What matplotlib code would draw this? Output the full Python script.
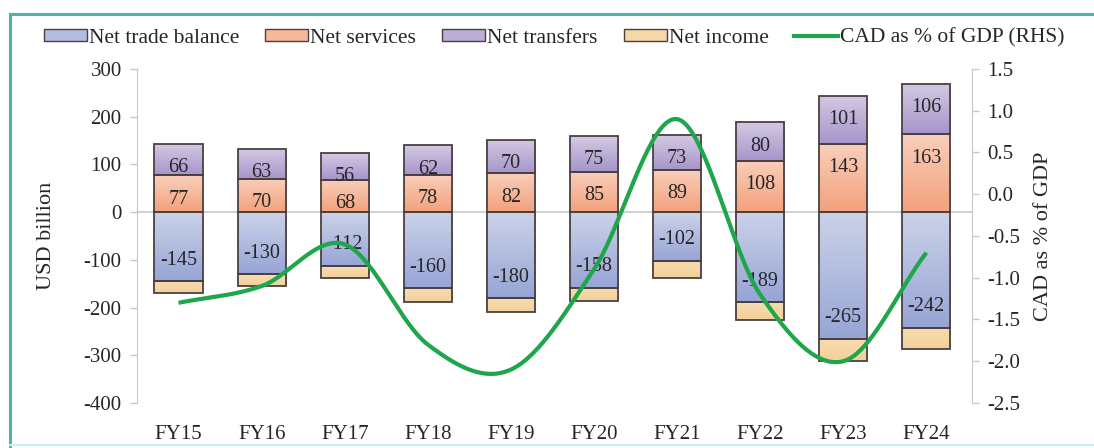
import numpy as np
import matplotlib
matplotlib.use("Agg")
import matplotlib.pyplot as plt
from matplotlib.colors import LinearSegmentedColormap
from matplotlib.lines import Line2D
from matplotlib.patches import Patch

plt.rcParams['font.family'] = ['Liberation Serif', 'DejaVu Serif']
plt.rcParams['axes.unicode_minus'] = False

years = ["FY15", "FY16", "FY17", "FY18", "FY19", "FY20", "FY21", "FY22", "FY23", "FY24"]
net_trade = [-145, -130, -112, -160, -180, -158, -102, -189, -265, -242]
net_services = [77, 70, 68, 78, 82, 85, 89, 108, 143, 163]
net_transfers = [66, 63, 56, 62, 70, 75, 73, 80, 101, 106]
net_income = [-24, -24, -26, -29, -30, -28, -36, -38, -46, -45]
cad_pct_gdp = [-1.3, -1.1, -0.6, -1.8, -2.1, -0.9, 0.9, -1.2, -2.0, -0.7]

# gradient (top colour, bottom colour) per component
grad_trade = ("#cbd2e8", "#97a5d6")
grad_services = ("#f9cfba", "#f3a17d")
grad_transfers = ("#d3c9e3", "#a795cb")
grad_income = ("#f7dcb0", "#f3d09b")
edge_col = "#4a4040"
line_col = "#1ea64a"
txt_col = "#262626"

W, H, DPI = 1094, 448, 100
fig = plt.figure(figsize=(W / DPI, H / DPI), dpi=DPI)
ax = fig.add_axes([137 / W, 1 - 403 / H, (972 - 137) / W, (403 - 69) / H])
ax2 = ax.twinx()

x = np.arange(len(years))
bw = 0.58


def grad_bars(xs, bottoms, heights, colors):
    cmap = LinearSegmentedColormap.from_list("g", [colors[1], colors[0]])
    bars = ax.bar(xs, heights, bw, bottom=bottoms, facecolor="none",
                  edgecolor=edge_col, linewidth=1.3, zorder=3)
    grad = np.linspace(0, 1, 64).reshape(-1, 1)
    for b in bars:
        x0, y0 = b.get_x(), b.get_y()
        w, h = b.get_width(), b.get_height()
        lo, hi = min(y0, y0 + h), max(y0, y0 + h)
        im = ax.imshow(grad, cmap=cmap, origin="lower", aspect="auto",
                       extent=(x0, x0 + w, lo, hi), zorder=2,
                       interpolation="bilinear")
        im.set_clip_path(b)
    return bars


zeros = np.zeros(len(years))
trade_arr = np.array(net_trade, dtype=float)
serv_arr = np.array(net_services, dtype=float)
trans_arr = np.array(net_transfers, dtype=float)
inc_arr = np.array(net_income, dtype=float)

grad_bars(x, zeros, trade_arr, grad_trade)
grad_bars(x, zeros, serv_arr, grad_services)
grad_bars(x, serv_arr, trans_arr, grad_transfers)
grad_bars(x, trade_arr, inc_arr, grad_income)

lab_fs = 14.5
# value labels placed just inside the outer end of each segment
for xi, v in zip(x, net_trade):
    ax.annotate(f"{v}", (xi, v), xytext=(0, 21), textcoords="offset pixels",
                ha="center", va="center", fontsize=lab_fs, color=txt_col, zorder=5)
for xi, v in zip(x, net_services):
    ax.annotate(f"{v}", (xi, v), xytext=(0, -24), textcoords="offset pixels",
                ha="center", va="center", fontsize=lab_fs, color=txt_col, zorder=5)
for xi, s, v in zip(x, net_services, net_transfers):
    ax.annotate(f"{v}", (xi, s + v), xytext=(0, -24), textcoords="offset pixels",
                ha="center", va="center", fontsize=lab_fs, color=txt_col, zorder=5)

ax.axhline(0, color="#c8c8c8", lw=1.2, zorder=1)

ax.set_xlim(-0.5, 9.55)
ax.set_ylim(-400, 300)
ax.set_yticks(np.arange(-400, 301, 100))
ax.set_xticks(x)
ax.set_xticklabels(years)
ax.set_ylabel("USD billion", fontsize=16, color=txt_col, labelpad=20)

# smoothed CAD line (Catmull-Rom through the yearly points)
def catmull_rom(px, py, n=40):
    px = np.asarray(px, float)
    py = np.asarray(py, float)
    P = np.column_stack([px, py])
    P = np.vstack([2 * P[0] - P[1], P, 2 * P[-1] - P[-2]])
    out = []
    for i in range(1, len(P) - 2):
        p0, p1, p2, p3 = P[i - 1], P[i], P[i + 1], P[i + 2]
        c1 = p1 + (p2 - p0) / 6
        c2 = p2 - (p3 - p1) / 6
        t = np.linspace(0, 1, n)[:, None]
        seg = ((1 - t) ** 3) * p1 + 3 * ((1 - t) ** 2) * t * c1 + 3 * (1 - t) * t ** 2 * c2 + t ** 3 * p2
        out.append(seg if i == 1 else seg[1:])
    out = np.vstack(out)
    return out[:, 0], out[:, 1]

sx, sy = catmull_rom(x, cad_pct_gdp)
ax2.plot(sx, sy, color=line_col, lw=3.0, solid_capstyle="butt", zorder=6)
ax2.set_ylim(-2.5, 1.5)
rt = np.arange(-2.5, 1.51, 0.5)
ax2.set_yticks(rt)
ax2.set_yticklabels([f"{v:.1f}" for v in rt])
ax2.set_ylabel("CAD as % of GDP", fontsize=16, color=txt_col, labelpad=10)
ax2.set_zorder(ax.get_zorder() + 1)
ax2.patch.set_visible(False)

for a in (ax, ax2):
    for s in ("top", "bottom"):
        a.spines[s].set_visible(False)
    a.spines["left"].set_color("#c8c8c8")
    a.spines["right"].set_color("#c8c8c8")
    a.tick_params(axis="y", colors="#c8c8c8", labelcolor=txt_col, labelsize=15,
                  length=5, width=1, pad=6)
    a.tick_params(axis="x", length=0, labelsize=15, labelcolor=txt_col, pad=16)
ax.spines["right"].set_visible(False)
ax2.spines["left"].set_visible(False)

handles = [
    Patch(facecolor="#b3bde0", edgecolor=edge_col, label="Net trade balance"),
    Patch(facecolor="#f7b899", edgecolor=edge_col, label="Net services"),
    Patch(facecolor="#bcaed6", edgecolor=edge_col, label="Net transfers"),
    Patch(facecolor="#f6d8a8", edgecolor=edge_col, label="Net income"),
    Line2D([0], [0], color=line_col, lw=3.0, label="CAD as % of GDP (RHS)"),
]
fig.legend(handles=handles, loc="center", bbox_to_anchor=(554 / W, 1 - 38 / H),
           ncol=5, frameon=False, fontsize=15.5, handlelength=2.0,
           handleheight=0.5, handletextpad=0.1, columnspacing=1.2,
           labelcolor=txt_col)

# panel frame
fig.add_artist(Line2D([10 / W, 1.0], [1 - 14 / H, 1 - 14 / H], color="#4fb3a4",
                      lw=2.2, transform=fig.transFigure))
fig.add_artist(Line2D([10 / W, 10 / W], [1 - 14 / H, 0], color="#4fb3a4",
                      lw=2.2, transform=fig.transFigure))
fig.add_artist(Line2D([10 / W, 1.0], [1 - 445 / H, 1 - 445 / H], color="#c5eef0",
                      lw=1.5, transform=fig.transFigure))

fig.savefig("out.png", dpi=DPI)
